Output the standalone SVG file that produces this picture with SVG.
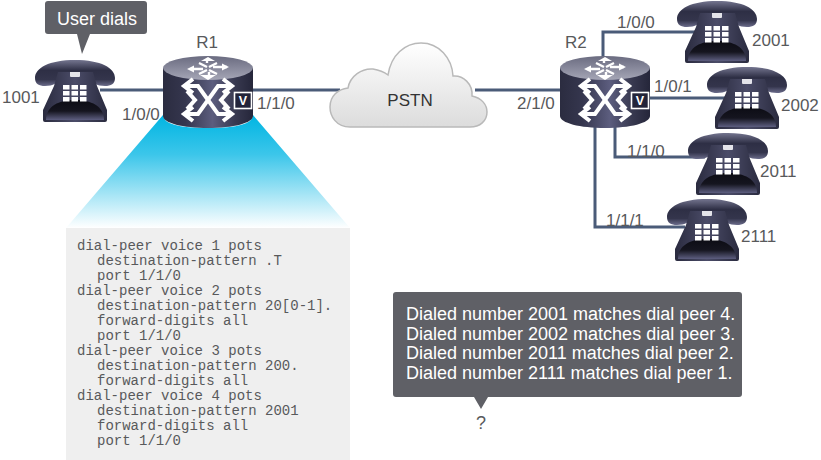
<svg xmlns="http://www.w3.org/2000/svg" xmlns:xlink="http://www.w3.org/1999/xlink" width="821" height="460" viewBox="0 0 821 460">
<style>
.t{font-family:"Liberation Sans",Arial,sans-serif;font-size:17px;fill:#58595b}
.m{font-size:18px;fill:#fff}
.c{font-family:"Liberation Mono","Courier New",monospace;font-size:14px;fill:#58595b}
.l{fill:none;stroke:#4a5b78;stroke-width:3}
.a{fill:none;stroke:#fff;stroke-width:4;stroke-linejoin:miter}
.b{fill:#5f6066}
</style>
<defs>
<linearGradient id="hs" x1="0" y1="0" x2="0" y2="1"><stop offset="0" stop-color="#74758f"/><stop offset=".4" stop-color="#2e2f45"/><stop offset=".75" stop-color="#34354c"/><stop offset="1" stop-color="#6a6b8a"/></linearGradient>
<linearGradient id="bd" x1="0" y1="0" x2="1" y2="0"><stop offset="0" stop-color="#2a2b3f"/><stop offset=".5" stop-color="#4b4c68"/><stop offset="1" stop-color="#2a2b3f"/></linearGradient>
<linearGradient id="dm" x1="0" y1="0" x2="0" y2="1"><stop offset="0" stop-color="#0c0c14"/><stop offset=".55" stop-color="#15151f"/><stop offset="1" stop-color="#5d5e80"/></linearGradient>
<linearGradient id="cy" x1="0" y1="0" x2="1" y2="0"><stop offset="0" stop-color="#2b2c40"/><stop offset=".25" stop-color="#35364e"/><stop offset=".55" stop-color="#5c5d7e"/><stop offset=".8" stop-color="#383950"/><stop offset="1" stop-color="#25263a"/></linearGradient>
<linearGradient id="tp" x1="0" y1="0" x2="0" y2="1"><stop offset="0" stop-color="#6a6b80"/><stop offset="1" stop-color="#a5a6b6"/></linearGradient>
<linearGradient id="bl" x1="0" y1="0" x2="0" y2="1"><stop offset="0" stop-color="#00b5e2"/><stop offset=".35" stop-color="#3cc6ea"/><stop offset="1" stop-color="#ffffff"/></linearGradient>
<linearGradient id="cl" x1="0" y1="0" x2="0" y2="1"><stop offset="0" stop-color="#ffffff"/><stop offset="1" stop-color="#dcdcdc"/></linearGradient>
<g id="phone">
<path d="M0 18C0 8 14 0 40 0S80 8 80 18C80 24 76 26 70 26C62 26 56 23 56 16C56 13 48 12 40 12S24 13 24 16C24 23 18 26 10 26C4 26 0 24 0 18Z" fill="url(#hs)"/>
<path d="M23 12H58L62 26L72 50V60Q72 62 70 62H10Q8 62 8 60V50L19 26Z" fill="url(#bd)"/>
<path d="M35 12H45V16Q45 17 44 17H36Q35 17 35 16Z" fill="#e4e4ea"/>
<path d="M11 60C11 46 24 40 40 40S69 46 69 60Z" fill="url(#dm)"/>
<g fill="#fff"><rect x="28" y="25" width="6.5" height="4.5"/><rect x="36.5" y="25" width="6.5" height="4.5"/><rect x="45" y="25" width="6.5" height="4.5"/><rect x="28" y="31" width="6.5" height="4.5"/><rect x="36.5" y="31" width="6.5" height="4.5"/><rect x="45" y="31" width="6.5" height="4.5"/><rect x="28" y="37" width="6.5" height="4.5"/><rect x="36.5" y="37" width="6.5" height="4.5"/><rect x="45" y="37" width="6.5" height="4.5"/></g>
</g>
<g id="router">
<path d="M0 12V60C0 67 20 72 45 72S90 67 90 60V12Z" fill="url(#cy)"/>
<ellipse cx="45" cy="12" rx="45" ry="12" fill="url(#tp)"/>
<g fill="none" stroke="#fff" stroke-width="2.4">
<path d="M28 13H40M50 11H64M44 7V3M46 16V21"/>
<path d="M36 7L44 11M54 7L46 11M36 18L44 14M54 18L46 14"/>
</g>
<path d="M45 1L38 5H52ZM45 24L37 19H53ZM24 13L31 9.5V16.5ZM66 11L59 7.5V14.5Z" fill="#fff"/>
<path class="a" d="M23 30H35L55 58H67M23 58H35L55 30H67"/>
<path class="a" d="M30 23L21 30L30 37M30 51L21 58L30 65M60 23L69 30L60 37M60 51L69 58L60 65"/>
<path class="a" d="M24 35L32 44L24 53M66 35L58 44L66 53" stroke-width="3"/>
<rect x="71.5" y="36.5" width="17" height="16" fill="#23243a" stroke="#fff" stroke-width="1.6"/>
<text x="80" y="49" text-anchor="middle" font-family="Liberation Sans,sans-serif" font-size="12.5" font-weight="bold" fill="#fff">V</text>
</g>
</defs>
<rect width="821" height="460" fill="#fff"/>
<path d="M163 115Q163 128 208 128T253 115L350 228H66Z" fill="url(#bl)"/>
<g id="connectors">
<path class="l" d="M100 90H165M253 90H340M475 90H562"/>
<path class="l" d="M603 58V32H695"/>
<path class="l" d="M648 98H725"/>
<path class="l" d="M615 125V157H705"/>
<path class="l" d="M595 125V227H685"/>
</g>
<g id="callout-user">
<path class="b" d="M48 1H144Q147 1 147 4V31Q147 34 144 34H90L82 54L77 34H48Q45 34 45 31V4Q45 1 48 1Z"/>
<text class="t m" x="57" y="25">User dials</text>
</g>
<g id="phone-1001"><use href="#phone" x="35" y="60"/><text class="t" x="2" y="103">1001</text></g>
<g id="r1"><use href="#router" x="163" y="56"/><text class="t" x="207" y="48" text-anchor="middle">R1</text><text class="t" x="122" y="120">1/0/0</text><text class="t" x="257" y="109">1/1/0</text></g>
<g id="pstn">
<path d="M350 127C336 127 330 116 330 107C330 96 338 89 348 88C350 76 362 68 373 69C379 70 384 72 388 75C391 55 405 43 421 43C439 43 452 58 453 76C463 75 473 84 472 96C482 98 487 105 487 112C487 121 480 127 470 127Z" fill="url(#cl)" stroke="#b9b9b9" stroke-width="1.5"/>
<text class="t" x="410" y="106" text-anchor="middle" style="fill:#333">PSTN</text>
</g>
<g id="r2"><use href="#router" x="560" y="56"/><text class="t" x="565" y="48">R2</text><text class="t" x="517" y="109">2/1/0</text></g>
<g id="phone-2001"><use href="#phone" x="677" y="1"/><text class="t" x="752" y="46">2001</text><text class="t" x="617" y="28">1/0/0</text></g>
<g id="phone-2002"><use href="#phone" x="707" y="67"/><text class="t" x="781" y="111">2002</text><text class="t" x="654" y="92">1/0/1</text></g>
<g id="phone-2011"><use href="#phone" x="688" y="133"/><text class="t" x="760" y="177">2011</text><text class="t" x="627" y="157">1/1/0</text></g>
<g id="phone-2111"><use href="#phone" x="667" y="199"/><text class="t" x="741" y="242">2111</text><text class="t" x="606" y="226">1/1/1</text></g>
<g id="config">
<rect x="66" y="228" width="284" height="232" fill="#efefef"/>
<text class="c" x="77" y="250">dial-peer voice 1 pots</text>
<text class="c" x="97" y="265">destination-pattern .T</text>
<text class="c" x="97" y="280">port 1/1/0</text>
<text class="c" x="77" y="295">dial-peer voice 2 pots</text>
<text class="c" x="97" y="310">destination-pattern 20[0-1].</text>
<text class="c" x="97" y="325">forward-digits all</text>
<text class="c" x="97" y="340">port 1/1/0</text>
<text class="c" x="77" y="355">dial-peer voice 3 pots</text>
<text class="c" x="97" y="370">destination-pattern 200.</text>
<text class="c" x="97" y="385">forward-digits all</text>
<text class="c" x="77" y="400">dial-peer voice 4 pots</text>
<text class="c" x="97" y="415">destination-pattern 2001</text>
<text class="c" x="97" y="430">forward-digits all</text>
<text class="c" x="97" y="445">port 1/1/0</text>
</g>
<g id="callout-result">
<path class="b" d="M396 292H739Q742 292 742 295V394Q742 397 739 397H488L481 409L474 397H396Q393 397 393 394V295Q393 292 396 292Z"/>
<text class="t m" x="406" y="320">Dialed number 2001 matches dial peer 4.</text>
<text class="t m" x="406" y="340">Dialed number 2002 matches dial peer 3.</text>
<text class="t m" x="406" y="359">Dialed number 2011 matches dial peer 2.</text>
<text class="t m" x="406" y="379">Dialed number 2111 matches dial peer 1.</text>
<text class="t" x="481" y="429" text-anchor="middle" style="font-size:18px">?</text>
</g>
</svg>
